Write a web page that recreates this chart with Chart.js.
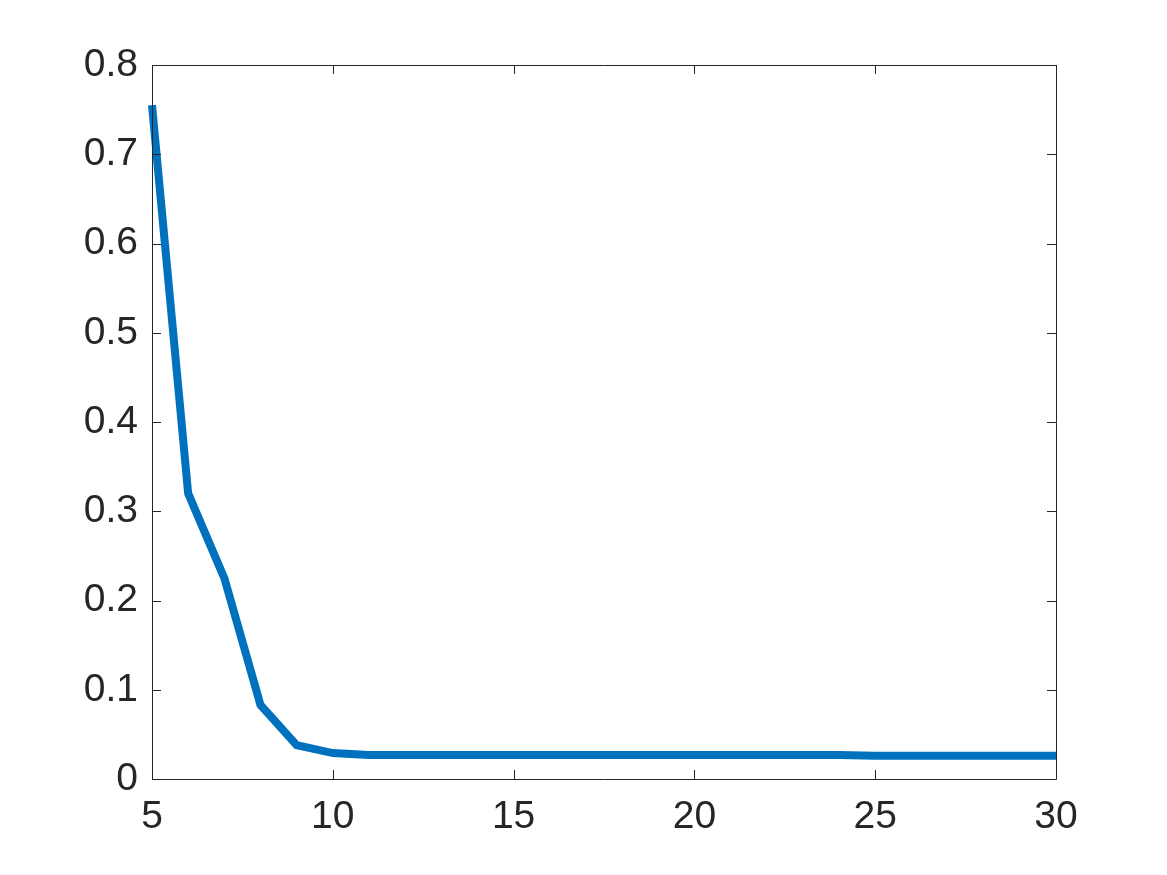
<!DOCTYPE html>
<html>
<head>
<meta charset="utf-8">
<script src="https://cdn.jsdelivr.net/npm/chart.js@4/dist/chart.umd.min.js"></script>
<style>
  html, body { margin: 0; padding: 0; background: #ffffff; }
  #chart { display: block; }
</style>
</head>
<body>
<canvas id="chart" width="1167" height="875"></canvas>
<script>
// Values
const xValues = [5, 6, 7, 8, 9, 10, 11, 12, 13, 14, 15, 16, 17, 18, 19, 20, 21, 22, 23, 24, 25, 26, 27, 28, 29, 30];
const yValues = [0.755, 0.320, 0.225, 0.083, 0.038, 0.029, 0.027, 0.027, 0.027, 0.027, 0.027, 0.027, 0.027,
                 0.027, 0.027, 0.027, 0.027, 0.027, 0.027, 0.027, 0.026, 0.026, 0.026, 0.026, 0.026, 0.026];
const xTicks = [5, 10, 15, 20, 25, 30];
const yTicks = [0, 0.1, 0.2, 0.3, 0.4, 0.5, 0.6, 0.7, 0.8];

const axisColor = '#262626';
const lineColor = '#0072BD';
const fontFamily = "'Liberation Sans', Arial, Helvetica, sans-serif";

// MATLAB style box with inward ticks on all four sides
const boxTicks = {
    id: 'boxTicks',
    afterDraw(chart) {
        const ctx = chart.ctx;
        const area = chart.chartArea;
        const xs = chart.scales.x;
        const ys = chart.scales.y;
        const len = 9;
        ctx.save();
        ctx.strokeStyle = axisColor;
        ctx.lineWidth = 1;
        ctx.beginPath();
        ctx.rect(area.left + 0.5, area.top + 0.5, area.right - area.left, area.bottom - area.top);
        xTicks.forEach(v => {
            const px = Math.round(xs.getPixelForValue(v)) + 0.5;
            ctx.moveTo(px, area.bottom);
            ctx.lineTo(px, area.bottom - len);
            ctx.moveTo(px, area.top);
            ctx.lineTo(px, area.top + len);
        });
        yTicks.forEach(v => {
            const py = Math.round(ys.getPixelForValue(v)) + 0.5;
            ctx.moveTo(area.left, py);
            ctx.lineTo(area.left + len, py);
            ctx.moveTo(area.right, py);
            ctx.lineTo(area.right - len, py);
        });
        ctx.stroke();
        ctx.restore();
    }
};

const ctx = document.getElementById('chart').getContext('2d');
const chart = new Chart(ctx, {
    type: 'line',
    data: {
        datasets: [{
            data: xValues.map((x, i) => ({ x: x, y: yValues[i] })),
            borderColor: lineColor,
            borderWidth: 8,
            pointRadius: 0,
            fill: false,
            tension: 0,
            clip: false,
        }]
    },
    options: {
        responsive: false,
        animation: false,
        layout: { padding: { top: 65, right: 111, left: 0, bottom: 0 } },
        plugins: {
            legend: { display: false },
            tooltip: { enabled: false }
        },
        scales: {
            x: {
                type: 'linear',
                min: 5,
                max: 30,
                afterBuildTicks: scale => { scale.ticks = xTicks.map(v => ({ value: v })); },
                afterFit: scale => { scale.height = 96; },
                grid: { display: false, drawTicks: false },
                border: { display: false },
                ticks: {
                    color: axisColor,
                    padding: 15,
                    maxRotation: 0,
                    font: { family: fontFamily, size: 39 }
                }
            },
            y: {
                type: 'linear',
                min: 0,
                max: 0.8,
                afterBuildTicks: scale => { scale.ticks = yTicks.map(v => ({ value: v })); },
                afterFit: scale => { scale.width = 152; },
                grid: { display: false, drawTicks: false },
                border: { display: false },
                ticks: {
                    color: axisColor,
                    padding: 14,
                    callback: v => String(Math.round(v * 10) / 10),
                    font: { family: fontFamily, size: 39 }
                }
            }
        }
    },
    plugins: [boxTicks]
});
</script>
</body>
</html>
